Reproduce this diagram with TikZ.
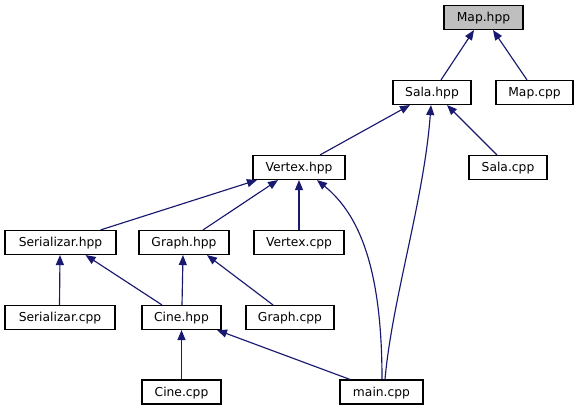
\documentclass[tikz,border=0pt]{standalone}
\usepackage{fontspec}
\setmainfont{DejaVu Sans}
\usetikzlibrary{arrows.meta}
\definecolor{edgeblue}{RGB}{25,25,112}
\definecolor{rootgray}{RGB}{191,191,191}
\tikzset{
  file/.style={draw=black, line width=1.1pt, fill=white, minimum height=24pt, inner sep=0pt, text height=9.3pt, text depth=0.5pt, font=\fontsize{12.3}{14}\selectfont},
  root/.style={file, fill=rootgray},
  dep/.style={draw=edgeblue, line width=1.15pt, -{Triangle[length=10pt,width=8pt]}, color=edgeblue}
}
\begin{document}
\begin{tikzpicture}[x=1pt,y=-1pt]
\useasboundingbox (0,0) rectangle (579,411);
\node[root, minimum width=79pt] (map) at (483.5,17.5) {Map.hpp};
\node[file, minimum width=78pt] (sala) at (432,92.5) {Sala.hpp};
\node[file, minimum width=77pt] (mapcpp) at (534.5,92.5) {Map.cpp};
\node[file, minimum width=92pt] (vertex) at (299,167.5) {Vertex.hpp};
\node[file, minimum width=78pt] (salacpp) at (508,167.5) {Sala.cpp};
\node[file, minimum width=111pt] (ser) at (60.5,242.5) {Serializar.hpp};
\node[file, minimum width=90pt] (graph) at (184,242.5) {Graph.hpp};
\node[file, minimum width=90pt] (vertexcpp) at (299,242.5) {Vertex.cpp};
\node[file, minimum width=110pt] (sercpp) at (60,317.5) {Serializar.cpp};
\node[file, minimum width=79pt] (cine) at (181.5,317.5) {Cine.hpp};
\node[file, minimum width=88pt] (graphcpp) at (290,317.5) {Graph.cpp};
\node[file, minimum width=79pt] (cinecpp) at (181.5,392) {Cine.cpp};
\node[file, minimum width=83pt] (main) at (381.5,392) {main.cpp};

\draw[dep] ([xshift=9pt]sala.north) -- ([xshift=-9.5pt]map.south);
\draw[dep] ([xshift=-7.5pt]mapcpp.north) -- ([xshift=9.5pt]map.south);
\draw[dep] ([xshift=21pt]vertex.north) -- ([xshift=-22pt]sala.south);
\draw[dep] ([xshift=-11pt]salacpp.north) -- ([xshift=15pt]sala.south);
\draw[dep] ([xshift=3.5pt]main.north) .. controls (392,300) and (424,200) .. ([xshift=-1pt]sala.south);
\draw[dep] ([xshift=40pt]ser.north) -- ([xshift=-42pt]vertex.south);
\draw[dep] ([xshift=19pt]graph.north) -- ([xshift=-21pt]vertex.south);
\draw[dep] (vertexcpp.north) -- (vertex.south);
\draw[dep] ([xshift=0.5pt]main.north) .. controls (382,270) and (360,215) .. ([xshift=18pt]vertex.south);
\draw[dep] ([xshift=-0.5pt]sercpp.north) -- ([xshift=-0.5pt]ser.south);
\draw[dep] ([xshift=-19.5pt]cine.north) -- ([xshift=25pt]ser.south);
\draw[dep] ([xshift=0.5pt]cine.north) -- ([xshift=-1pt]graph.south);
\draw[dep] ([xshift=-17pt]graphcpp.north) -- ([xshift=23pt]graph.south);
\draw[dep] (cinecpp.north) -- (cine.south);
\draw[dep] ([xshift=-31.5pt]main.north) -- ([xshift=35.5pt]cine.south);
\end{tikzpicture}
\end{document}
